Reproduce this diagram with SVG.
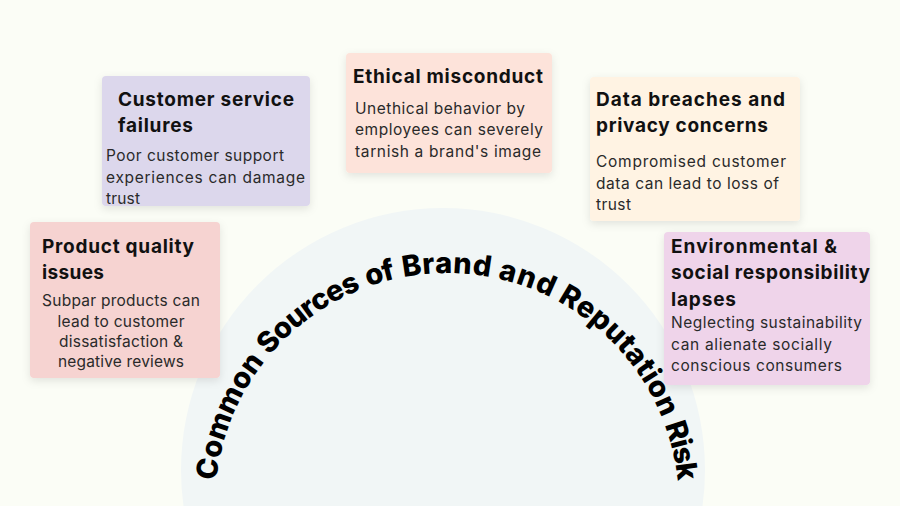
<svg xmlns="http://www.w3.org/2000/svg" width="900" height="506" viewBox="0 0 900 506">
<defs>
<filter id="sh" x="-20%" y="-20%" width="140%" height="150%">
<feDropShadow dx="0" dy="3" stdDeviation="4" flood-color="#000" flood-opacity="0.10"/>
</filter>
<path id="arc" d="M 215 505 A 232 232 0 0 1 679 505"/>
<style>
.t{font-family:Inter,"Open Sans","Liberation Sans",sans-serif;font-weight:700;font-size:19px;fill:#111}
.b{font-family:Inter,"Open Sans","Liberation Sans",sans-serif;font-weight:400;font-size:15.5px;fill:#2a2a2a}
.m{text-anchor:middle}
.box{filter:url(#sh)}
.arc{font-family:Inter,"Open Sans","Liberation Sans",sans-serif;font-weight:800;font-size:29px;fill:#000}
</style>
</defs>
<rect width="900" height="506" fill="#fbfdf6"/>
<circle cx="443" cy="470" r="262" fill="#f1f6f6"/>
<g id="title">
<text class="arc"><textPath href="#arc" startOffset="24.4" textLength="130.4">Common</textPath></text>
<text class="arc"><textPath href="#arc" startOffset="162.3" textLength="114.1">Sources</textPath></text>
<text class="arc"><textPath href="#arc" startOffset="283.9" textLength="29">of</textPath></text>
<text class="arc"><textPath href="#arc" startOffset="320.4" textLength="87.3">Brand</textPath></text>
<text class="arc"><textPath href="#arc" startOffset="415.2" textLength="56.4">and</textPath></text>
<text class="arc"><textPath href="#arc" startOffset="479.1" textLength="160">Reputation</textPath></text>
<text class="arc"><textPath href="#arc" startOffset="646.6" textLength="58">Risk</textPath></text>
</g>
<g id="customer-service">
<rect class="box" x="102" y="76" width="208" height="130" rx="4" fill="#dcd7ec"/>
<text class="t" x="118" y="106" textLength="176">Customer service</text>
<text class="t" x="118" y="132" textLength="75">failures</text>
<text class="b" x="106" y="161" textLength="178">Poor customer support</text>
<text class="b" x="106" y="183" textLength="199">experiences can damage</text>
<text class="b" x="106" y="204" textLength="34">trust</text>
</g>
<g id="product-quality">
<rect class="box" x="30" y="222" width="190" height="156" rx="4" fill="#f6d3d1"/>
<text class="t" x="42" y="253" textLength="152">Product quality</text>
<text class="t" x="42" y="279" textLength="62">issues</text>
<text class="b m" x="121" y="306" textLength="158">Subpar products can</text>
<text class="b m" x="121" y="327" textLength="127">lead to customer</text>
<text class="b m" x="121" y="347" textLength="124">dissatisfaction &amp;</text>
<text class="b m" x="121" y="367" textLength="126">negative reviews</text>
</g>
<g id="ethical-misconduct">
<rect class="box" x="346" y="53" width="206" height="120" rx="4" fill="#fde3da"/>
<text class="t" x="353" y="83" textLength="190">Ethical misconduct</text>
<text class="b" x="355" y="114" textLength="170">Unethical behavior by</text>
<text class="b" x="355" y="135" textLength="188">employees can severely</text>
<text class="b" x="355" y="157" textLength="186">tarnish a brand's image</text>
</g>
<g id="data-breaches">
<rect class="box" x="590" y="77" width="210" height="144" rx="4" fill="#fff3e3"/>
<text class="t" x="596" y="106" textLength="189">Data breaches and</text>
<text class="t" x="596" y="132" textLength="172">privacy concerns</text>
<text class="b" x="596" y="167" textLength="190">Compromised customer</text>
<text class="b" x="596" y="189" textLength="183">data can lead to loss of</text>
<text class="b" x="596" y="210" textLength="35">trust</text>
</g>
<g id="environmental">
<rect class="box" x="664" y="232" width="206" height="153" rx="4" fill="#efd4ea"/>
<text class="t" x="671" y="253" textLength="166">Environmental &amp;</text>
<text class="t" x="671" y="279" textLength="199">social responsibility</text>
<text class="t" x="671" y="306" textLength="65">lapses</text>
<text class="b" x="671" y="328" textLength="191">Neglecting sustainability</text>
<text class="b" x="671" y="350" textLength="161">can alienate socially</text>
<text class="b" x="671" y="371" textLength="171">conscious consumers</text>
</g>
</svg>
